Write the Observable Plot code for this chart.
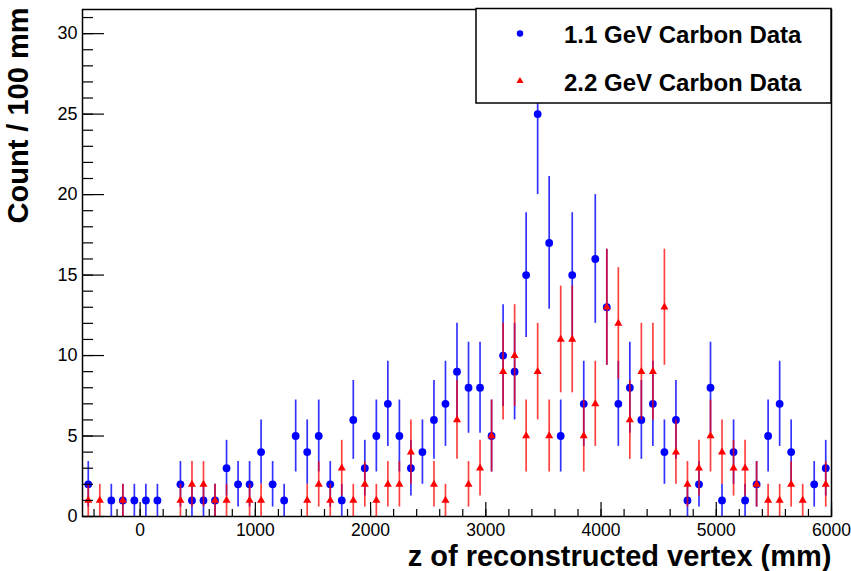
<!DOCTYPE html>
<html>
<head>
<meta charset="utf-8">
<script src="https://cdn.jsdelivr.net/npm/d3@7"></script>
<script src="https://cdn.jsdelivr.net/npm/@observablehq/plot@0.6"></script>
<style>
  html, body { margin: 0; padding: 0; background: #fff; }
  #chart svg { display: block; }
</style>
</head>
<body>
<div id="chart"></div>
<script>
// Bin centres (mm), 100 mm bins
const zBins = [-450,-350,-250,-150,-50,50,150,250,350,450,550,650,750,850,950,
  1050,1150,1250,1350,1450,1550,1650,1750,1850,1950,2050,2150,2250,2350,2450,
  2550,2650,2750,2850,2950,3050,3150,3250,3350,3450,3550,3650,3750,3850,3950,
  4050,4150,4250,4350,4450,4550,4650,4750,4850,4950,5050,5150,5250,5350,5450,
  5550,5650,5750,5850,5950];

// 1.1 GeV Carbon Data counts (null = empty bin)
const counts11 = [2,null,1,1,1,1,1,null,2,1,1,1,3,2,2,
  4,2,1,5,4,5,2,1,6,3,5,7,5,3,4,
  6,7,9,8,8,5,10,9,15,25,17,5,15,7,16,
  13,7,8,6,7,4,6,1,2,8,1,4,1,2,5,
  7,4,null,2,3];

// 2.2 GeV Carbon Data counts (null = empty bin)
const counts22 = [1,1,null,1,null,null,null,null,1,2,2,1,1,null,1,
  1,null,null,null,1,2,1,3,1,2,1,2,2,4,null,
  2,1,6,2,3,5,9,10,5,9,5,11,11,5,7,
  13,12,6,9,9,13,4,2,3,5,4,3,3,2,1,
  1,2,1,null,2];

const seriesNames = ["1.1 GeV Carbon Data", "2.2 GeV Carbon Data"];
const xMajorTicks = [0,1000,2000,3000,4000,5000,6000];
const xMinorTicks = [-400,-200,0,200,400,600,800,1000,1200,1400,1600,1800,2000,2200,2400,2600,2800,3000,3200,3400,3600,3800,4000,4200,4400,4600,4800,5000,5200,5400,5600,5800,6000];
const yMajorTicks = [0,5,10,15,20,25,30];
const yMinorTicks = [0,1,2,3,4,5,6,7,8,9,10,11,12,13,14,15,16,17,18,19,20,21,22,23,24,25,26,27,28,29,30,31];
const xTitle = "z of reconstructed vertex (mm)";
const yTitle = "Count / 100 mm";

function rows(counts) {
  return zBins.map((z, i) => ({z, c: counts[i]}))
    .filter(d => d.c != null)
    .map(d => ({...d, lo: d.c - Math.sqrt(d.c), hi: d.c + Math.sqrt(d.c)}));
}
const d11 = rows(counts11);
const d22 = rows(counts22);

const W = 851, H = 571, mL = 82, mR = 20, mT = 9, mB = 55;
const fw = W - mL - mR, fh = H - mT - mB;
const BLUE = "#0000ff", RED = "#ff0000";
const FONT = "'Liberation Sans', Arial, Helvetica, sans-serif";

const chart = Plot.plot({
  width: W, height: H,
  marginLeft: mL, marginRight: mR, marginTop: mT, marginBottom: mB,
  x: {domain: [-500, 6000], axis: null},
  y: {domain: [0, 31.5], axis: null},
  style: {fontFamily: FONT, background: "#fff", overflow: "visible"},
  marks: [
    Plot.ruleX(d11, {x: "z", y1: "lo", y2: "hi", stroke: BLUE, strokeWidth: 1.7, strokeOpacity: 0.8}),
    Plot.dot(d11, {x: "z", y: "c", r: 3.9, fill: BLUE, stroke: "none"}),
    Plot.ruleX(d22, {x: "z", y1: "lo", y2: "hi", stroke: RED, strokeWidth: 1.7, strokeOpacity: 0.75}),
    Plot.dot(d22, {x: "z", y: "c", r: 3.0, symbol: "triangle", fill: RED, stroke: "none"}),
    // ticks (ROOT style, inside the frame)
    Plot.tickX(xMinorTicks, {x: d => d, insetTop: fh - 7, stroke: "#000", strokeWidth: 1.2}),
    Plot.tickX(xMajorTicks, {x: d => d, insetTop: fh - 14, stroke: "#000", strokeWidth: 1.2}),
    Plot.tickY(yMinorTicks, {y: d => d, insetRight: fw - 11, stroke: "#000", strokeWidth: 1.2}),
    Plot.tickY(yMajorTicks, {y: d => d, insetRight: fw - 22, stroke: "#000", strokeWidth: 1.2}),
    Plot.frame({stroke: "#000", strokeWidth: 1.5}),
    // tick labels
    Plot.text(xMajorTicks, {x: d => d, frameAnchor: "bottom", lineAnchor: "middle", dy: 13.5, text: d => String(d), fontSize: 17.5, fill: "#000"}),
    Plot.text(yMajorTicks, {y: d => d, frameAnchor: "left", lineAnchor: "middle", dx: -5, textAnchor: "end", text: d => String(d), fontSize: 18, fill: "#000"}),
    // axis titles
    Plot.text([xTitle], {frameAnchor: "bottom-right", lineAnchor: "middle", dx: 0, dy: 40, textAnchor: "end", text: d => d, fontSize: 29, fontWeight: "bold", fill: "#000"}),
    Plot.text([yTitle], {frameAnchor: "top-left", lineAnchor: "middle", dx: -64, dy: -2, rotate: -90, textAnchor: "end", text: d => d, fontSize: 29, fontWeight: "bold", fill: "#000"})
  ]
});

document.getElementById("chart").appendChild(chart);

// Legend box (ROOT TLegend style) inside the frame, top-right
const svg = d3.select(chart);
const lg = svg.append("g").attr("font-family", FONT).attr("text-anchor", "start");
lg.append("rect").attr("x", 476).attr("y", 8.5).attr("width", 355).attr("height", 94.5)
  .attr("fill", "#fff").attr("stroke", "#000").attr("stroke-width", 1.5);
lg.append("circle").attr("cx", 520).attr("cy", 33.5).attr("r", 3.2).attr("fill", BLUE);
lg.append("path").attr("d", d3.symbol(d3.symbolTriangle, 22)()).attr("transform", "translate(520,81)").attr("fill", RED);
lg.append("text").attr("x", 564).attr("y", 43).attr("text-anchor", "start").attr("font-size", 24).attr("font-weight", "bold").attr("fill", "#000").text(seriesNames[0]);
lg.append("text").attr("x", 564).attr("y", 91).attr("text-anchor", "start").attr("font-size", 24).attr("font-weight", "bold").attr("fill", "#000").text(seriesNames[1]);
</script>
</body>
</html>
